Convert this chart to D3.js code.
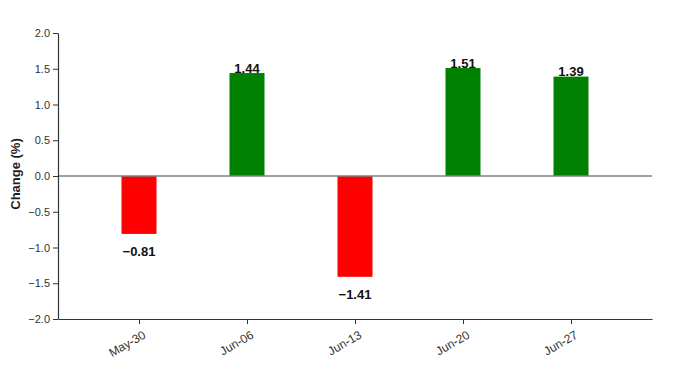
<!DOCTYPE html>
<html>
<head>
<meta charset="utf-8">
<script src="https://cdn.jsdelivr.net/npm/d3@7"></script>
<style>
  body { margin: 0; background: #fff; }
  svg { font-family: "Liberation Sans", Arial, sans-serif; }
</style>
</head>
<body>
<svg id="chart" width="677" height="388"></svg>
<script>
const categories = ["May-30", "Jun-06", "Jun-13", "Jun-20", "Jun-27"];
const changes = [-0.81, 1.44, -1.41, 1.51, 1.39];
const yTicks = [-2.0, -1.5, -1.0, -0.5, 0.0, 0.5, 1.0, 1.5, 2.0];

const svg = d3.select("#chart");
const mLeft = 58, mRight = 652, mTop = 33, mBottom = 319;

const x = d3.scalePoint().domain(categories).range([mLeft, mRight]).padding(0.75);
const y = d3.scaleLinear().domain([-2, 2]).range([mBottom, mTop]);
const barW = 35;

const fmt = v => (v < 0 ? "\u2212" : "") + Math.abs(v).toFixed(2);
const rows = categories.map((c, i) => ({ c, v: changes[i] }));

// bars
svg.append("g").selectAll("rect")
  .data(rows)
  .join("rect")
  .attr("x", d => x(d.c) - barW / 2)
  .attr("width", barW)
  .attr("y", d => y(Math.max(0, d.v)))
  .attr("height", d => Math.abs(y(d.v) - y(0)))
  .attr("fill", d => d.v >= 0 ? "#008000" : "#ff0000");

// zero line
svg.append("line")
  .attr("x1", mLeft).attr("x2", mRight)
  .attr("y1", y(0)).attr("y2", y(0))
  .attr("stroke", "#808080").attr("stroke-width", 1.5);

// y axis
const yAxis = svg.append("g")
  .attr("transform", `translate(${mLeft},0)`)
  .call(d3.axisLeft(y).tickValues(yTicks).tickFormat(d3.format(".1f")).tickSize(5).tickSizeOuter(0));
yAxis.select(".domain").attr("stroke", "#333").attr("stroke-width", 1.2);
yAxis.selectAll(".tick line").attr("stroke", "#333");
yAxis.selectAll(".tick text").attr("font-size", 11).attr("fill", "#333")
  .attr("font-family", "Liberation Sans, Arial, sans-serif");

// x axis
const xAxis = svg.append("g")
  .attr("transform", `translate(0,${mBottom})`)
  .call(d3.axisBottom(x).tickSize(5).tickSizeOuter(0));
xAxis.select(".domain").attr("stroke", "#333").attr("stroke-width", 1.2);
xAxis.selectAll(".tick line").attr("stroke", "#333");
xAxis.selectAll(".tick text")
  .attr("font-size", 12).attr("fill", "#333")
  .attr("font-family", "Liberation Sans, Arial, sans-serif")
  .attr("text-anchor", "end")
  .attr("dx", "-0.25em").attr("dy", "0.95em")
  .attr("transform", "rotate(-30)");

// y label
svg.append("text")
  .attr("transform", `translate(20,${y(0) - 2}) rotate(-90)`)
  .attr("text-anchor", "middle")
  .attr("font-size", 13).attr("font-weight", "bold").attr("fill", "#222")
  .text("Change (%)");

// value labels
svg.append("g").selectAll("text")
  .data(rows)
  .join("text")
  .attr("x", d => x(d.c))
  .attr("y", d => d.v >= 0 ? y(d.v) - 0.5 : y(d.v) + 22)
  .attr("text-anchor", "middle")
  .attr("font-size", 13).attr("font-weight", "bold").attr("fill", "#111")
  .text(d => fmt(d.v));
</script>
</body>
</html>
